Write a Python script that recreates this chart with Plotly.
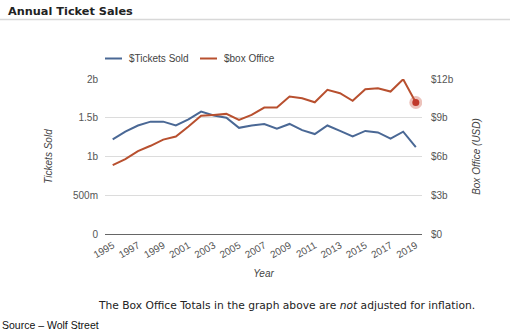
import plotly.graph_objects as go

years = list(range(1995, 2020))
tickets_b = [1.22, 1.32, 1.40, 1.45, 1.45, 1.40, 1.48, 1.58, 1.53, 1.50, 1.37, 1.40, 1.42, 1.36, 1.42,
             1.34, 1.29, 1.40, 1.33, 1.26, 1.33, 1.31, 1.23, 1.32, 1.12]
boxoffice_b = [5.33, 5.80, 6.42, 6.83, 7.31, 7.55, 8.32, 9.15, 9.22, 9.30, 8.84, 9.22, 9.79, 9.79, 10.64,
               10.51, 10.20, 11.16, 10.90, 10.31, 11.21, 11.29, 11.03, 11.98, 10.18]
left_ticks = [0, 0.5e9, 1e9, 1.5e9, 2e9]
left_labels = ["0", "500m", "1b", "1.5b", "2b"]
right_ticks = [0, 3e9, 6e9, 9e9, 12e9]
right_labels = ["$0", "$3b", "$6b", "$9b", "$12b"]
x_ticks = list(range(1995, 2020, 2))
series_names = ["$Tickets Sold", "$box Office"]

BLUE = "#4a6895"
RED = "#b8502f"

W, H = 510, 334
L, R, T, B = 105, 88, 79, 100
pw, ph = W - L - R, H - T - B

def px(x):
    return (x - L) / pw

def py(y):
    return (H - B - y) / ph

fig = go.Figure()
fig.add_trace(go.Scatter(x=years, y=[v * 1e9 for v in tickets_b], mode="lines",
                         line=dict(color=BLUE, width=2), name=series_names[0], yaxis="y"))
fig.add_trace(go.Scatter(x=years, y=[v * 1e9 for v in boxoffice_b], mode="lines",
                         line=dict(color=RED, width=2), name=series_names[1], yaxis="y2"))
fig.add_trace(go.Scatter(x=[years[-1]], y=[boxoffice_b[-1] * 1e9], mode="markers",
                         marker=dict(size=13, color="rgba(200,80,60,0.35)"), showlegend=False,
                         yaxis="y2", hoverinfo="skip"))
fig.add_trace(go.Scatter(x=[years[-1]], y=[boxoffice_b[-1] * 1e9], mode="markers",
                         marker=dict(size=7, color="#c0392b"), showlegend=False, yaxis="y2"))

fig.update_layout(
    width=W, height=H,
    margin=dict(l=L, r=R, t=T, b=B),
    paper_bgcolor="white", plot_bgcolor="white",
    font=dict(family="Arial, Liberation Sans, sans-serif", size=10, color="#444"),
    showlegend=False,
    xaxis=dict(range=[1994.39, 2019.49], tickvals=x_ticks, ticktext=[str(y) for y in x_ticks],
               tickangle=-30, showgrid=False, zeroline=False, showline=False,
               tickfont=dict(size=10, color="#555"), ticks="", ticklabelstandoff=3,
               title=dict(text="<i>Year</i>", font=dict(size=10, color="#444"), standoff=10)),
    yaxis=dict(range=[0, 2e9], tickvals=left_ticks, ticktext=left_labels,
               showgrid=True, gridcolor="#dcdcdc", gridwidth=1, zeroline=True,
               zerolinecolor="#666", zerolinewidth=1.2,
               tickfont=dict(size=10, color="#555"), ticks="", ticklabelstandoff=6,
               title=dict(text="<i>Tickets Sold</i>", font=dict(size=10, color="#444"), standoff=18)),
    yaxis2=dict(range=[0, 12e9], tickvals=right_ticks, ticktext=right_labels, overlaying="y",
                side="right", showgrid=False, zeroline=False,
                tickfont=dict(size=10, color="#555"), ticks="", ticklabelstandoff=8,
                title=dict(text="<i>Box Office (USD)</i>", font=dict(size=10, color="#444"), standoff=20)),
)

# legend drawn manually (short line keys)
for (x0, x1, tx), name, col in zip([(105, 122, 127), (200, 217, 222)], series_names, [BLUE, RED]):
    fig.add_shape(type="line", xref="paper", yref="paper", x0=px(x0), x1=px(x1), y0=py(58.5), y1=py(58.5),
                  line=dict(color=col, width=2))
    fig.add_annotation(text=name, xref="paper", yref="paper", x=px(tx), y=py(58.5),
                       xanchor="left", yanchor="middle", showarrow=False,
                       font=dict(size=10, color="#444"))

fig.add_shape(type="line", xref="paper", yref="paper", x0=px(0), x1=px(W), y0=py(19.5), y1=py(19.5),
              line=dict(color="#d8d8d8", width=1.5))
fig.add_annotation(text="<b>Annual Ticket Sales</b>", xref="paper", yref="paper", x=px(6), y=py(11),
                   xanchor="left", yanchor="middle", showarrow=False,
                   font=dict(family="DejaVu Sans, Verdana, sans-serif", size=11.3, color="#222"))
fig.add_annotation(text="The Box Office Totals in the graph above are <i>not</i> adjusted for inflation.",
                   xref="paper", yref="paper", x=px(96), y=py(305), xanchor="left", yanchor="middle",
                   showarrow=False, font=dict(family="DejaVu Sans, Verdana, sans-serif", size=10.7, color="#222"))
fig.add_annotation(text="Source – Wolf Street", xref="paper", yref="paper", x=px(0), y=py(325),
                   xanchor="left", yanchor="middle", showarrow=False,
                   font=dict(family="Arial, Liberation Sans, sans-serif", size=10.5, color="#111"))

fig.write_html("out.html")
